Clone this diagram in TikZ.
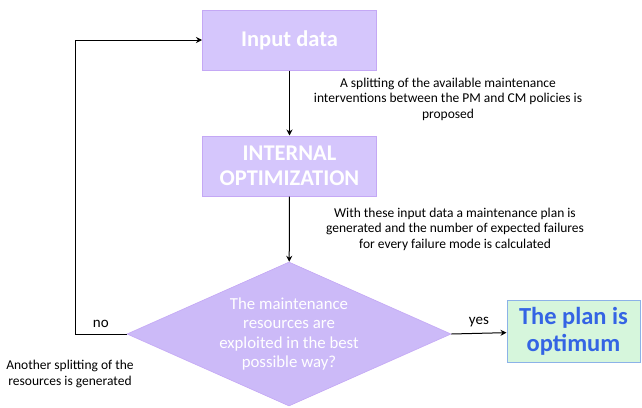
\documentclass[tikz,border=0pt]{standalone}
\usepackage{fontspec}
\setmainfont{Carlito}
\usepackage{tikz}
\usetikzlibrary{
  arrows.meta, positioning, shapes.geometric
}
\usepackage{xcolor}
\definecolor{stagelilac}{RGB}{213,198,252}
\definecolor{stageedge}{RGB}{196,168,245}
\definecolor{checklilac}{RGB}{204,186,248}
\definecolor{plangreen}{RGB}{214,246,220}
\definecolor{planedge}{RGB}{140,178,232}
\definecolor{planblue}{RGB}{52,100,228}

\tikzset{
  stagebox/.style={draw=stageedge, fill=stagelilac, line width=1pt,
    minimum width=174pt, minimum height=60pt, align=center,
    text=white, font=\bfseries\fontsize{22.5}{25}\selectfont},
  checkbox/.style={diamond, draw=stageedge, fill=checklilac, line width=0.6pt,
    inner sep=0pt, aspect=2.25, minimum width=324pt, minimum height=144pt,
    align=center, text=white, font=\fontsize{16.8}{19.5}\selectfont},
  planbox/.style={draw=planedge, fill=plangreen, line width=1pt,
    minimum width=133pt, minimum height=62pt, align=center,
    text=planblue, font=\bfseries\fontsize{24.5}{27}\selectfont},
  remark/.style={align=center, font=\fontsize{13.5}{15.5}\selectfont},
  flow/.style={-{Stealth[length=6pt,width=6pt]}, line width=1pt},
  answer/.style={font=\fontsize{15}{18}\selectfont}
}

\begin{document}
\begin{tikzpicture}[x=1pt, y=-1pt]
  \useasboundingbox (0,0) rectangle (642,407);

  \node[stagebox] (input) at (289.5,40) {Input data};
  \node[stagebox] (optim) at (289.5,166) {INTERNAL\\OPTIMIZATION};
  \node[checkbox] (check) at (289,334) {The maintenance\\resources are\\exploited in the best\\possible way?};
  \node[planbox] (plan) at (573.5,331) {The plan is\\optimum};

  \node[remark] (splitnote) at (448,99) {A splitting of the available maintenance\\interventions between the PM and CM policies is\\proposed};
  \node[remark] (evalnote) at (455,229) {With these input data a maintenance plan is\\generated and the number of expected failures\\for every failure mode is calculated};
  \node[remark] (retrynote) at (70,374) {Another splitting of the\\resources is generated};

  \coordinate (loopcorner) at (75,334);

  \draw[flow] (input) -- (optim);
  \draw[flow] (optim) -- (check);
  \draw[flow] (check.east) -- node[answer, above=3pt] {yes} (plan);
  \draw[flow] (check.west) -- node[answer, above=3pt] {no} (loopcorner) |- (input.west);
\end{tikzpicture}
\end{document}
